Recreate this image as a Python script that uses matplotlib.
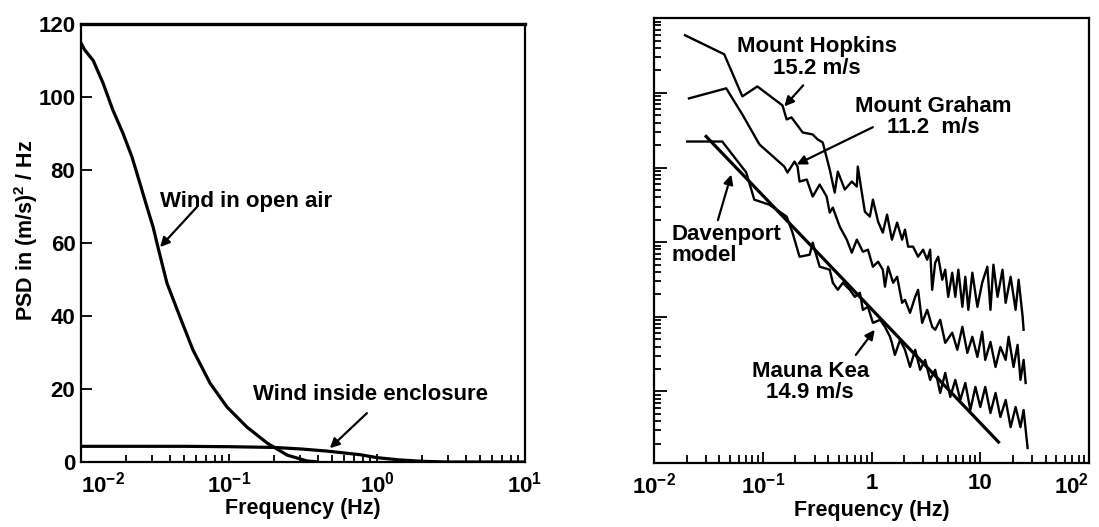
import numpy as np
import matplotlib
matplotlib.use("Agg")
from matplotlib import pyplot as plt
from matplotlib.ticker import LogLocator, FixedLocator, FixedFormatter, NullFormatter

plt.rcParams["font.family"] = ["Liberation Sans", "DejaVu Sans"]
plt.rcParams["font.weight"] = "bold"
plt.rcParams["axes.labelweight"] = "bold"
plt.rcParams["mathtext.fontset"] = "custom"
plt.rcParams["mathtext.rm"] = "Liberation Sans:bold"
plt.rcParams["mathtext.it"] = "Liberation Sans:bold"
plt.rcParams["mathtext.default"] = "rm"

# ---- left panel: linear PSD, (m/s)^2/Hz
open_air_freq = [0.0100, 0.0106, 0.0121, 0.0141, 0.0164, 0.0192, 0.0221, 0.0250,
                 0.0279, 0.0307, 0.0331, 0.0381, 0.0467, 0.0571, 0.0745, 0.0968,
                 0.132, 0.181, 0.247, 0.336, 0.40]
open_air_psd = [114.8, 112.9, 110.0, 103.8, 96.5, 90.1, 83.6, 76.4,
                69.9, 64.4, 58.9, 49.0, 39.7, 30.7, 21.6, 15.1,
                9.6, 5.2, 1.9, 0.3, 0.0]

enclosure_freq = [0.010, 0.05, 0.10, 0.20, 0.30, 0.46, 0.77, 1.0, 1.4, 2.0, 3.0, 10.0]
enclosure_psd = [4.3, 4.3, 4.2, 4.0, 3.6, 3.0, 2.0, 1.2, 0.6, 0.2, 0.0, 0.0]

# ---- right panel: log PSD (arbitrary units)
hopkins_freq = [0.0193, 0.0443, 0.0650, 0.0893, 0.152, 0.166, 0.184, 0.233, 0.288,
                0.320, 0.356, 0.413, 0.459, 0.490, 0.568, 0.659, 0.733, 0.748,
                0.815, 0.869, 0.966, 1.03, 1.15, 1.27, 1.39, 1.54, 1.72, 1.91,
                2.03, 2.17, 2.41, 2.68, 2.98, 3.25, 3.46, 3.61, 3.85, 4.10, 4.47,
                4.76, 5.07, 5.52, 5.89, 6.28, 6.84, 7.28, 7.76, 8.45, 9.40, 10.4,
                11.6, 12.4, 13.2, 14.4, 16.0, 17.1, 19.0, 21.1, 22.5, 24.5, 25.0]
hopkins_psd = [59.2, 32.9, 8.98, 12.2, 6.79, 4.41, 4.69, 2.95, 2.77,
               2.38, 2.17, 0.94, 0.461, 0.883, 0.507, 0.649, 0.556, 1.03,
               0.461, 0.256, 0.220, 0.371, 0.188, 0.134, 0.234, 0.108, 0.183, 0.108,
               0.147, 0.0871, 0.0871, 0.0638, 0.0793, 0.0582, 0.0793, 0.0230, 0.0531, 0.0638, 0.0314,
               0.0428, 0.0185, 0.0390, 0.0185, 0.0428, 0.0136, 0.0344, 0.0124, 0.0390, 0.0136, 0.0286,
               0.0469, 0.0124, 0.0499, 0.0185, 0.0428, 0.0154, 0.0344, 0.0124, 0.0314, 0.0100, 0.0067]

graham_freq = [0.0210, 0.0462, 0.0650, 0.0933, 0.158, 0.169, 0.196, 0.209, 0.218,
               0.254, 0.288, 0.334, 0.387, 0.413, 0.441, 0.511, 0.593, 0.659, 0.733,
               0.833, 0.927, 1.03, 1.15, 1.27, 1.33, 1.42, 1.58, 1.72, 1.91, 2.03,
               2.26, 2.52, 2.68, 2.92, 3.25, 3.61, 3.85, 4.28, 4.76, 5.52, 6.15,
               6.84, 7.60, 8.45, 9.40, 10.4, 11.1, 12.4, 13.8, 15.3, 17.1, 18.2,
               20.2, 22.0, 23.4, 25.0, 26.1]
graham_psd = [8.44, 11.5, 5.14, 2.04, 1.03, 0.857, 1.20, 1.03, 0.649,
              0.690, 0.408, 0.592, 0.408, 0.249, 0.290, 0.161, 0.108, 0.0723, 0.108,
              0.0745, 0.0793, 0.0469, 0.0547, 0.0428, 0.0253, 0.0469, 0.0286, 0.0344, 0.0154, 0.0169,
              0.0113, 0.0185, 0.0230, 0.00830, 0.0124, 0.00735, 0.00670, 0.00912, 0.00448, 0.00613, 0.00361,
              0.00735, 0.00329, 0.00540, 0.00290, 0.00630, 0.00265, 0.00461, 0.00213, 0.00395, 0.00265, 0.00540,
              0.00213, 0.00421, 0.00143, 0.00265, 0.00130]

mauna_kea_freq = [0.0202, 0.0322, 0.0425, 0.0706, 0.0837, 0.115, 0.166, 0.188, 0.218,
                  0.270, 0.288, 0.334, 0.413, 0.441, 0.490, 0.545, 0.632, 0.703, 0.782,
                  0.833, 0.927, 1.03, 1.20, 1.33, 1.48, 1.54, 1.64, 1.83, 2.03, 2.26,
                  2.52, 2.80, 3.11, 3.46, 3.85, 4.28, 4.76, 5.30, 5.89, 6.55, 7.28,
                  8.10, 9.01, 10.0, 11.1, 12.4, 13.8, 15.3, 17.1, 19.0, 21.1, 23.4,
                  25.0, 27.2]
mauna_kea_psd = [2.23, 2.23, 2.23, 0.857, 0.371, 0.318, 0.220, 0.134, 0.0638,
                 0.0679, 0.0984, 0.0469, 0.0428, 0.0286, 0.0230, 0.0286, 0.0230, 0.0185, 0.0210,
                 0.0124, 0.0136, 0.00830, 0.00912, 0.00735, 0.00540, 0.00448, 0.00309, 0.00491, 0.00361, 0.00213,
                 0.00361, 0.00195, 0.00265, 0.00143, 0.00195, 0.000955, 0.00177, 0.000844, 0.00143, 0.000769, 0.00130,
                 0.000565, 0.00115, 0.000619, 0.00115, 0.000514, 0.000955, 0.000455, 0.000769, 0.000333, 0.000619, 0.000333,
                 0.000565, 0.000175]

davenport_freq = [0.0302, 0.288, 14.7]
davenport_psd = [2.61, 0.085, 0.00021]

left_xticklabels = ["$10^{-2}$", "$10^{-1}$", "$10^{0}$", "$10^{1}$"]
right_xticklabels = ["$10^{-2}$", "$10^{-1}$", "1", "10", "$10^{2}$"]

FS = 16      # annotation text
TS = 16      # tick labels
LS = 15.5    # axis labels

fig = plt.figure(figsize=(10.99, 5.27), dpi=100)
ax1 = fig.add_axes([0.0737, 0.1233, 0.404, 0.831])
ax2 = fig.add_axes([0.595, 0.1214, 0.396, 0.844])

# left panel
ax1.plot(open_air_freq, open_air_psd, color="black", lw=2.3, solid_capstyle="round")
ax1.plot(enclosure_freq, enclosure_psd, color="black", lw=2.3)
ax1.set_xscale("log")
ax1.set_xlim(0.01, 10)
ax1.set_ylim(0, 120)
ax1.xaxis.set_major_locator(FixedLocator([0.01, 0.1, 1, 10]))
ax1.xaxis.set_major_formatter(FixedFormatter(left_xticklabels))
ax1.xaxis.set_minor_locator(LogLocator(base=10, subs=np.arange(2, 10), numticks=20))
ax1.xaxis.set_minor_formatter(NullFormatter())
ax1.set_yticks(np.arange(0, 121, 20))
ax1.tick_params(axis="both", which="both", direction="in", labelsize=TS,
                top=False, right=False, width=1.3)
ax1.tick_params(axis="y", which="major", length=8, pad=4)
ax1.tick_params(axis="x", which="major", length=6, pad=7)
ax1.tick_params(axis="x", which="minor", length=5)
for s in ax1.spines.values():
    s.set_linewidth(1.6)
ax1.spines["top"].set_linewidth(2.4)
ax1.set_xlabel("Frequency (Hz)", fontsize=LS, labelpad=0)
ax1.set_ylabel("PSD in (m/s)$^2$ / Hz", fontsize=LS)
ax1.yaxis.set_label_coords(-0.092, 0.53)
# first label sits just right of the axis corner, clear of the "0"
ax1.get_xticklabels()[0].set_horizontalalignment("left")

arrow = dict(arrowstyle="-|>", color="black", lw=1.6, mutation_scale=14, shrinkA=0, shrinkB=0)
ax1.annotate("", xy=(0.0342, 58.9), xytext=(0.0608, 69.9), arrowprops=arrow)
ax1.text(0.034, 71.5, "Wind in open air", fontsize=FS, ha="left", va="center")
ax1.annotate("", xy=(0.48, 3.8), xytext=(0.855, 13.4), arrowprops=arrow)
ax1.text(0.145, 18.4, "Wind inside enclosure", fontsize=FS, ha="left", va="center")

# right panel
ax2.plot(hopkins_freq, hopkins_psd, color="black", lw=1.7)
ax2.plot(graham_freq, graham_psd, color="black", lw=1.7)
ax2.plot(mauna_kea_freq, mauna_kea_psd, color="black", lw=1.7)
ax2.plot(davenport_freq, davenport_psd, color="black", lw=2.3)
ax2.set_xscale("log")
ax2.set_yscale("log")
ax2.set_xlim(0.01, 100)
ax2.set_ylim(1.1e-4, 1.0e2)
ax2.xaxis.set_major_locator(FixedLocator([0.01, 0.1, 1, 10, 100]))
ax2.xaxis.set_major_formatter(FixedFormatter(right_xticklabels))
ax2.xaxis.set_minor_locator(LogLocator(base=10, subs=np.arange(2, 10), numticks=20))
ax2.xaxis.set_minor_formatter(NullFormatter())
ax2.yaxis.set_major_locator(LogLocator(base=10, numticks=20))
ax2.yaxis.set_minor_locator(LogLocator(base=10, subs=np.arange(2, 10), numticks=20))
ax2.yaxis.set_major_formatter(NullFormatter())
ax2.yaxis.set_minor_formatter(NullFormatter())
ax2.tick_params(axis="both", which="both", direction="in", labelsize=TS,
                top=False, right=False, width=1.3)
ax2.tick_params(axis="x", which="major", length=8, pad=7)
ax2.tick_params(axis="x", which="minor", length=6)
ax2.tick_params(axis="y", which="major", length=9)
ax2.tick_params(axis="y", which="minor", length=5)
for s in ax2.spines.values():
    s.set_linewidth(1.6)
ax2.set_xlabel("Frequency (Hz)", fontsize=LS, labelpad=1)
# keep the last label inside the figure
ax2.get_xticklabels()[-1].set_horizontalalignment("right")

ax2.annotate("", xy=(0.158, 6.59), xytext=(0.343, 0.849), textcoords="axes fraction",
             arrowprops=arrow)
ax2.text(0.375, 0.912, "Mount Hopkins\n15.2 m/s", transform=ax2.transAxes,
         fontsize=FS, ha="center", va="center", linespacing=1.05)
ax2.annotate("", xy=(0.205, 1.10), xytext=(0.503, 0.755), textcoords="axes fraction",
             arrowprops=arrow)
ax2.text(0.641, 0.778, "Mount Graham\n11.2  m/s", transform=ax2.transAxes,
         fontsize=FS, ha="center", va="center", linespacing=1.05)
ax2.annotate("", xy=(0.0514, 0.805), xytext=(0.147, 0.546), textcoords="axes fraction",
             arrowprops=arrow)
ax2.text(0.041, 0.49, "Davenport\nmodel", transform=ax2.transAxes,
         fontsize=FS, ha="left", va="center", linespacing=1.05)
ax2.annotate("", xy=(1.07, 0.0067), xytext=(0.464, 0.243), textcoords="axes fraction",
             arrowprops=arrow)
ax2.text(0.359, 0.182, "Mauna Kea\n14.9 m/s", transform=ax2.transAxes,
         fontsize=FS, ha="center", va="center", linespacing=1.05)

fig.savefig("out.png", dpi=100)
